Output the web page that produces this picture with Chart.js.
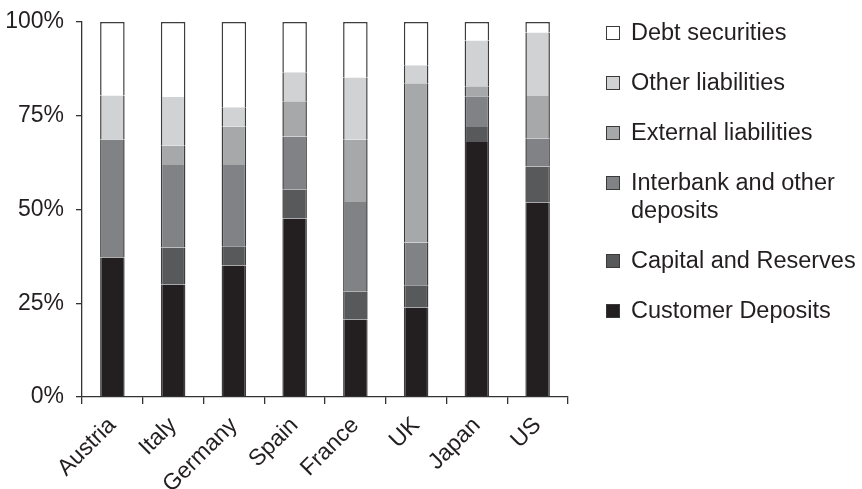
<!DOCTYPE html>
<html>
<head>
<meta charset="utf-8">
<script src="https://cdn.jsdelivr.net/npm/chart.js@4/dist/chart.umd.min.js"></script>
<style>
  html, body { margin: 0; padding: 0; background: #fff; overflow: hidden; }
  #wrap { position: relative; width: 862px; height: 489px; }
  #legend { position: absolute; left: 606px; top: 18px; width: 250px;
            font-family: "Liberation Sans", Arial, Helvetica, sans-serif;
            font-size: 23.5px; line-height: 28px; color: #231f20; }
  .item { display: flex; align-items: flex-start; margin-bottom: 22px; }
  .box { width: 12px; height: 12px; border: 1px solid #3a3a3a; margin-top: 8px;
         margin-right: 11px; flex: none; }
  .txt { width: 232px; }
</style>
</head>
<body>
<div id="wrap">
  <canvas id="c" width="862" height="489"></canvas>
  <div id="legend"></div>
</div>
<script>
const categories = ['Austria', 'Italy', 'Germany', 'Spain', 'France', 'UK', 'Japan', 'US'];
const customerDeposits    = [37.2, 30.0, 35.1, 47.6, 20.7, 23.9, 68.0, 51.9];
const capitalReserves     = [0.0,  9.9,  5.1,  7.7,  7.4,  5.9,  4.0,  9.6];
const interbankDeposits   = [31.5, 22.0, 21.7, 14.2, 23.9, 11.4, 8.2,  7.4];
const externalLiabilities = [0.0,  5.1,  10.2, 9.4,  16.6, 42.5, 2.7,  11.4];
const otherLiabilities    = [11.7, 13.0, 5.2,  7.7,  16.6, 4.8,  12.2, 16.9];
const debtSecurities      = [19.6, 20.0, 22.7, 13.4, 14.8, 11.5, 4.9,  2.8];
const yTicks = [0, 25, 50, 75, 100];

const seriesNames = ['Customer Deposits', 'Capital and Reserves', 'Interbank and other deposits',
                     'External liabilities', 'Other liabilities', 'Debt securities'];
const seriesData = [customerDeposits, capitalReserves, interbankDeposits,
                    externalLiabilities, otherLiabilities, debtSecurities];
const seriesColors = ['#231f20', '#58595b', '#808285', '#a7a8aa', '#d1d2d4', '#ffffff'];

const FONT = '"Liberation Sans", Arial, Helvetica, sans-serif';
const edge = '#3d3d3d';

const datasets = seriesNames.map((name, i) => ({
  label: name,
  data: seriesData[i],
  backgroundColor: seriesColors[i],
  borderColor: edge,
  borderWidth: { left: 1.5, right: 1.5, top: i === seriesNames.length - 1 ? 1.5 : 0, bottom: 0 },
  borderSkipped: false,
  barPercentage: 0.8,
  categoryPercentage: 0.505
}));

new Chart(document.getElementById('c'), {
  type: 'bar',
  data: { labels: categories, datasets },
  options: {
    responsive: false,
    animation: false,
    devicePixelRatio: 1,
    layout: { padding: { left: 0, right: 294, top: 22, bottom: 0 } },
    plugins: { legend: { display: false }, tooltip: { enabled: false } },
    scales: {
      x: {
        stacked: true,
        offset: true,
        grid: { display: true, drawOnChartArea: false, drawTicks: true, tickLength: 7,
                color: '#333', lineWidth: 1.3, offset: true },
        border: { display: true, color: '#333', width: 1.3 },
        ticks: { autoSkip: false, maxRotation: 45, minRotation: 45, padding: 8,
                 color: '#231f20', font: { family: FONT, size: 23 } },
        afterFit: (s) => { s.height = 92; }
      },
      y: {
        stacked: true,
        min: 0, max: 100,
        afterBuildTicks: (s) => { s.ticks = yTicks.map(v => ({ value: v })); },
        grid: { display: true, drawOnChartArea: false, drawTicks: true, tickLength: 6,
                color: '#333', lineWidth: 1.3 },
        border: { display: true, color: '#333', width: 1.3 },
        ticks: { padding: 12, color: '#231f20', font: { family: FONT, size: 23, lineHeight: 0.5 },
                 callback: (v) => v + '%' },
        afterFit: (s) => { s.width = 82; }
      }
    }
  }
});

const legend = document.getElementById('legend');
for (let i = seriesNames.length - 1; i >= 0; i--) {
  const item = document.createElement('div');
  item.className = 'item';
  const box = document.createElement('div');
  box.className = 'box';
  box.style.background = seriesColors[i];
  const txt = document.createElement('div');
  txt.className = 'txt';
  txt.textContent = seriesNames[i];
  item.appendChild(box);
  item.appendChild(txt);
  legend.appendChild(item);
}
</script>
</body>
</html>
